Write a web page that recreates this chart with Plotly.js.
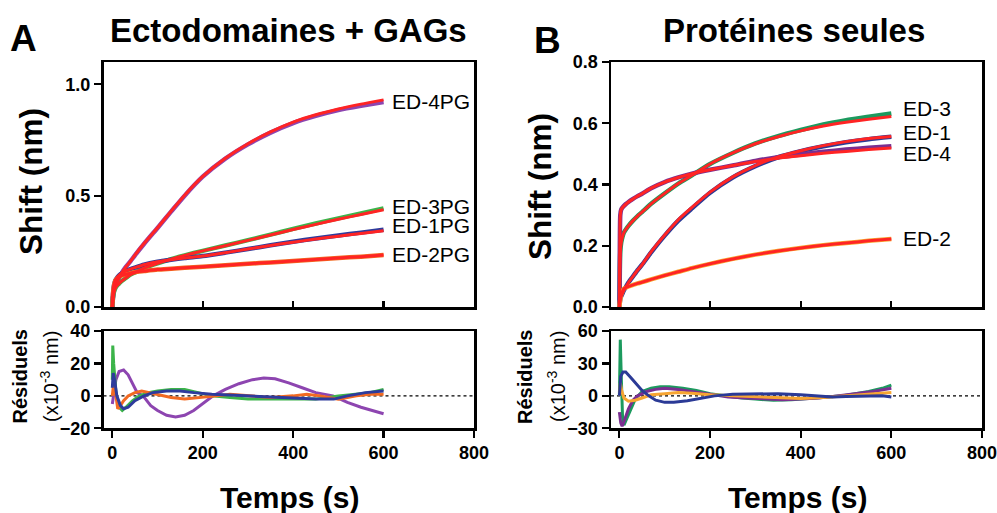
<!DOCTYPE html>
<html><head><meta charset="utf-8">
<script src="https://cdn.plot.ly/plotly-3.0.1.min.js"></script>
<style>html,body{margin:0;padding:0;background:#fff}#chart{width:997px;height:513px}</style>
</head><body><div id="chart"></div>
<script>
// ---------- DATA ----------
const timeS = [0,1,2,4,7,10,15,20,30,40,50,70,100,130,160,200,250,300,350,400,450,500,550,600];

// Panel A (Ectodomaines + GAGs) - measured and fitted shift (nm)
const namesA = ["ED-4PG","ED-3PG","ED-1PG","ED-2PG"];
const a_ed4pg_data = [0,0.03,0.05,0.075,0.095,0.11,0.13,0.15,0.18,0.205,0.232,0.283,0.355,0.428,0.5,0.585,0.666,0.73,0.783,0.826,0.858,0.884,0.903,0.92];
const a_ed4pg_fit  = [0,0.03,0.05,0.075,0.095,0.11,0.13,0.15,0.18,0.205,0.233,0.285,0.356,0.43,0.502,0.586,0.668,0.733,0.786,0.83,0.863,0.889,0.911,0.93];
const a_ed3pg_data = [0,0.03,0.05,0.07,0.085,0.095,0.105,0.115,0.13,0.145,0.155,0.175,0.196,0.215,0.232,0.252,0.276,0.3,0.325,0.351,0.375,0.398,0.42,0.443];
const a_ed3pg_fit  = [0,0.03,0.05,0.07,0.085,0.095,0.105,0.115,0.13,0.145,0.155,0.175,0.196,0.215,0.232,0.252,0.275,0.299,0.323,0.348,0.371,0.394,0.415,0.437];
const a_ed1pg_data = [0,0.04,0.07,0.1,0.12,0.13,0.142,0.15,0.162,0.17,0.177,0.19,0.203,0.212,0.22,0.229,0.244,0.26,0.277,0.293,0.308,0.321,0.334,0.347];
const a_ed1pg_fit  = [0,0.04,0.07,0.1,0.12,0.13,0.142,0.15,0.162,0.17,0.177,0.19,0.203,0.212,0.22,0.229,0.244,0.26,0.276,0.291,0.305,0.318,0.33,0.342];
const a_ed2pg_data = [0,0.04,0.07,0.1,0.12,0.128,0.136,0.141,0.147,0.152,0.156,0.161,0.168,0.172,0.176,0.181,0.187,0.194,0.2,0.207,0.213,0.22,0.226,0.233];
const a_ed2pg_fit  = a_ed2pg_data;

// Panel B (Protéines seules)
const namesB = ["ED-3","ED-1","ED-4","ED-2"];
const b_ed3_data = [0,0.12,0.18,0.21,0.23,0.243,0.255,0.265,0.282,0.297,0.31,0.337,0.371,0.403,0.43,0.467,0.503,0.534,0.558,0.578,0.596,0.61,0.621,0.632];
const b_ed3_fit  = [0,0.12,0.18,0.21,0.23,0.243,0.255,0.265,0.282,0.297,0.31,0.337,0.371,0.403,0.43,0.467,0.503,0.533,0.556,0.575,0.591,0.603,0.613,0.622];
const b_ed1_data = [0,0.015,0.025,0.035,0.045,0.055,0.067,0.08,0.1,0.12,0.138,0.178,0.233,0.282,0.322,0.373,0.423,0.46,0.489,0.509,0.525,0.538,0.548,0.556];
const b_ed1_fit  = [0,0.015,0.025,0.035,0.045,0.055,0.067,0.08,0.1,0.12,0.138,0.18,0.235,0.285,0.325,0.375,0.425,0.462,0.49,0.51,0.527,0.54,0.55,0.557];
const b_ed4_data = [0,0.2,0.3,0.318,0.325,0.33,0.337,0.343,0.353,0.362,0.37,0.388,0.408,0.423,0.435,0.448,0.462,0.477,0.489,0.498,0.507,0.514,0.52,0.525];
const b_ed4_fit  = [0,0.2,0.3,0.318,0.325,0.33,0.337,0.343,0.353,0.362,0.37,0.388,0.408,0.423,0.435,0.448,0.462,0.475,0.486,0.494,0.502,0.508,0.514,0.519];
const b_ed2_data = [0,0.015,0.025,0.04,0.052,0.06,0.064,0.067,0.072,0.077,0.081,0.09,0.103,0.115,0.127,0.141,0.157,0.171,0.183,0.193,0.202,0.209,0.216,0.222];
const b_ed2_fit  = b_ed2_data;

// Residuals panel A (x10^-3 nm)
const ra_purple_t = [0,3,8,15,25,35,45,55,68,85,100,120,140,160,180,200,223,250,280,310,335,360,390,420,450,488,520,550,580,600];
const ra_purple_v = [-5,2,10,15,16,13,7,2,0,-6,-9,-12,-13,-12,-9,-5,0,4,7.5,10,11,10.5,8,5,2,0,-4,-7,-9.5,-11];
const ra_green_t = [0,1,3,8,15,22,30,45,60,80,100,130,160,190,220,260,300,350,400,450,500,540,570,600];
const ra_green_v = [10,31,20,2,-7,-9,-7,-3,0,2,3,4,4,2,0,-1,-2,-2,-2,-2,0,1,2,4];
const ra_orange_t = [0,3,7,12,18,25,35,50,65,80,100,130,160,200,230,260,300,350,400,430,460,500,540,570,600];
const ra_orange_v = [0,8,2,-8,-6,-3,0,2,3,2,1,-1,-2,-1,0,1,0,-1,0,1,0,-2,0,1,1];
const ra_blue_t = [0,2,5,10,18,25,35,50,70,90,120,150,180,220,260,300,350,400,450,490,520,560,600];
const ra_blue_v = [5,14,10,0,-6,-8,-7,-3,0,2,3,3,2,1,0.5,0,-1,-1.5,-2,-2,0,2,3];

// Residuals panel B
const rb_green_t = [0,1,2,4,7,10,15,25,35,50,70,90,110,140,170,200,230,270,300,340,380,420,460,490,520,550,580,600];
const rb_green_v = [0,30,52,20,-20,-27,-22,-12,-3,4,7,8.5,8.5,7,5,2,0,-2,-3,-4,-3.5,-2.5,-1,0,2,4,7,10];
const rb_purple_t = [0,3,6,10,20,30,40,60,80,100,130,160,200,240,280,320,360,400,440,480,520,560,600];
const rb_purple_v = [-15,-25,-28,-24,-12,-4,0,4,6,7,6,4,1,-1,-2,-3,-3.5,-3,-2,0,2,4,7];
const rb_orange_t = [0,2,5,10,20,35,50,70,100,130,160,200,250,300,350,400,450,500,550,600];
const rb_orange_v = [0,12,5,-2,-5,-4,-2,1,2,3,2.5,1,0,-1,-2,-2.5,-1.5,0,1.5,3];
const rb_blue_t = [0,3,8,14,25,35,50,65,80,100,120,150,180,210,250,300,350,400,430,470,500,550,580,600];
const rb_blue_v = [0,18,22,22,17,12,5,0,-4,-6,-6,-4.5,-2,0,1.5,2,2,1,0,-1,-0.5,0,0,-1];

const xTicks = [0,200,400,600,800];

// ---------- STYLE / HELPERS ----------
const W = 997, H = 513;
const px = x => x / W, py = y => 1 - y / H;
const FONT = "Liberation Sans, Arial, Helvetica, sans-serif";
const RED = "#ff2424";
const C = {purpleA:"#8d45b0", greenA:"#3cb44a", orangeA:"#f26a22", blueA:"#2e3b9c",
           purpleB:"#7a2f90", greenB:"#1c9a5e", orangeB:"#f7a531", blueB:"#2b3a96"};

function line(x, y, color, width, xa, ya, smooth) {
  return {x, y, type:"scatter", mode:"lines",
          line:{color, width, shape: smooth ? "spline" : "linear", smoothing: smooth || 0},
          xaxis:xa, yaxis:ya, hoverinfo:"skip", showlegend:false};
}

const traces = [
  // Panel A data
  line(timeS, a_ed4pg_data, C.purpleA, 4.5, "x", "y", 0.6),
  line(timeS, a_ed3pg_data, C.greenA, 4.5, "x", "y", 0.6),
  line(timeS, a_ed1pg_data, C.blueA, 4.5, "x", "y", 0.6),
  line(timeS, a_ed2pg_data, C.orangeA, 4.5, "x", "y", 0.6),
  // Panel A fits
  line(timeS, a_ed4pg_fit, RED, 3, "x", "y", 0.6),
  line(timeS, a_ed3pg_fit, RED, 3, "x", "y", 0.6),
  line(timeS, a_ed1pg_fit, RED, 3, "x", "y", 0.6),
  line(timeS, a_ed2pg_fit, RED, 3, "x", "y", 0.6),
  // Panel A residuals
  line(ra_purple_t, ra_purple_v, C.purpleA, 3, "x2", "y2"),
  line(ra_green_t, ra_green_v, C.greenA, 3, "x2", "y2"),
  line(ra_orange_t, ra_orange_v, C.orangeA, 3, "x2", "y2"),
  line(ra_blue_t, ra_blue_v, C.blueA, 3, "x2", "y2"),
  // Panel B data
  line(timeS, b_ed3_data, C.greenB, 4.5, "x3", "y3", 0.6),
  line(timeS, b_ed1_data, C.blueB, 4.5, "x3", "y3", 0.6),
  line(timeS, b_ed4_data, C.purpleB, 4.5, "x3", "y3", 0.6),
  line(timeS, b_ed2_data, C.orangeB, 4.5, "x3", "y3", 0.6),
  // Panel B fits
  line(timeS, b_ed3_fit, RED, 3, "x3", "y3", 0.6),
  line(timeS, b_ed1_fit, RED, 3, "x3", "y3", 0.6),
  line(timeS, b_ed4_fit, RED, 3, "x3", "y3", 0.6),
  line(timeS, b_ed2_fit, RED, 3, "x3", "y3", 0.6),
  // Panel B residuals
  line(rb_green_t, rb_green_v, C.greenB, 3, "x4", "y4"),
  line(rb_purple_t, rb_purple_v, C.purpleB, 3, "x4", "y4"),
  line(rb_orange_t, rb_orange_v, C.orangeB, 3, "x4", "y4"),
  line(rb_blue_t, rb_blue_v, C.blueB, 3, "x4", "y4")
];

const tickFont = {family:FONT, size:18, color:"#000", weight:700};
const baseAxis = {showline:true, mirror:true, linecolor:"#000", linewidth:2.5, showgrid:false,
  zeroline:false, ticks:"outside", ticklen:7, tickwidth:2.2, tickcolor:"#000", tickfont:tickFont,
  ticklabeloverflow:"allow", fixedrange:true};

const layout = {
  width:W, height:H, margin:{l:0,r:0,t:0,b:0}, paper_bgcolor:"#fff", plot_bgcolor:"#fff",
  font:{family:FONT, color:"#000"}, showlegend:false,
  xaxis: Object.assign({}, baseAxis, {domain:[px(103.5),px(474)], range:[-19.5,800], anchor:"y",
    showticklabels:false, ticks:"inside", ticklen:6, tickvals:[200,400,600]}),
  yaxis: Object.assign({}, baseAxis, {domain:[py(307),py(62)], range:[0,1.1], anchor:"x",
    tickvals:[0,0.5,1.0], tickformat:".1f"}),
  xaxis2: Object.assign({}, baseAxis, {domain:[px(103.5),px(474)], range:[-19.5,800], anchor:"y2",
    tickvals:xTicks}),
  yaxis2: Object.assign({}, baseAxis, {domain:[py(428.3),py(331)], range:[-20,40], anchor:"x2",
    tickvals:[-20,0,20,40]}),
  xaxis3: Object.assign({}, baseAxis, {domain:[px(611),px(982)], range:[-18.5,800], anchor:"y3",
    showticklabels:false, ticks:"inside", ticklen:6, tickvals:[200,400,600]}),
  yaxis3: Object.assign({}, baseAxis, {domain:[py(307),py(62)], range:[0,0.8], anchor:"x3",
    tickvals:[0,0.2,0.4,0.6,0.8], tickformat:".1f"}),
  xaxis4: Object.assign({}, baseAxis, {domain:[px(611),px(982)], range:[-18.5,800], anchor:"y4",
    tickvals:xTicks}),
  yaxis4: Object.assign({}, baseAxis, {domain:[py(428.3),py(331)], range:[-30,60], anchor:"x4",
    tickvals:[-30,0,30,60]}),
  shapes: [
    {type:"line", xref:"x2", yref:"y2", x0:-19.5, x1:800, y0:0, y1:0, line:{color:"#000", width:1.4, dash:"3px,3px"}, layer:"below"},
    {type:"line", xref:"x4", yref:"y4", x0:-18.5, x1:800, y0:0, y1:0, line:{color:"#000", width:1.4, dash:"3px,3px"}, layer:"below"}
  ],
  annotations: []
};

function ann(text, x, y, size, bold, opts) {
  layout.annotations.push(Object.assign({text, x:px(x), y:py(y), xref:"paper", yref:"paper",
    showarrow:false, xanchor:"center", yanchor:"middle",
    font:{family:FONT, size, color:"#000", weight: bold ? 700 : 400}}, opts || {}));
}
// Panel letters and titles
ann("A", 23, 39, 37, true);
ann("Ectodomaines + GAGs", 288, 31, 33, true);
ann("B", 547.5, 40, 37, true);
ann("Protéines seules", 794, 31, 33, true);
// Axis titles
ann("Shift (nm)", 31, 182, 31.5, true, {textangle:-90});
ann("Shift (nm)", 540, 187, 31.5, true, {textangle:-90});
ann("Résiduels", 19.5, 377, 20, true, {textangle:-90});
ann("(x10<sup>-3</sup> nm)", 49, 377, 20, false, {textangle:-90});
ann("Résiduels", 525, 377, 20, true, {textangle:-90});
ann("(x10<sup>-3</sup> nm)", 556, 377, 20, false, {textangle:-90});
ann("Temps (s)", 289, 497, 30, true);
ann("Temps (s)", 797, 497, 30, true);
// Curve labels
const labA_y = [101.7, 206, 225.7, 255];
namesA.forEach((n,i) => ann(n, 390, labA_y[i], 21, false, {xanchor:"left"}));
const labB_y = [108.3, 132.7, 153.3, 238.3];
namesB.forEach((n,i) => ann(n, 900.5, labB_y[i], 21, false, {xanchor:"left"}));

Plotly.newPlot("chart", traces, layout, {staticPlot:true, displayModeBar:false});
</script></body></html>
